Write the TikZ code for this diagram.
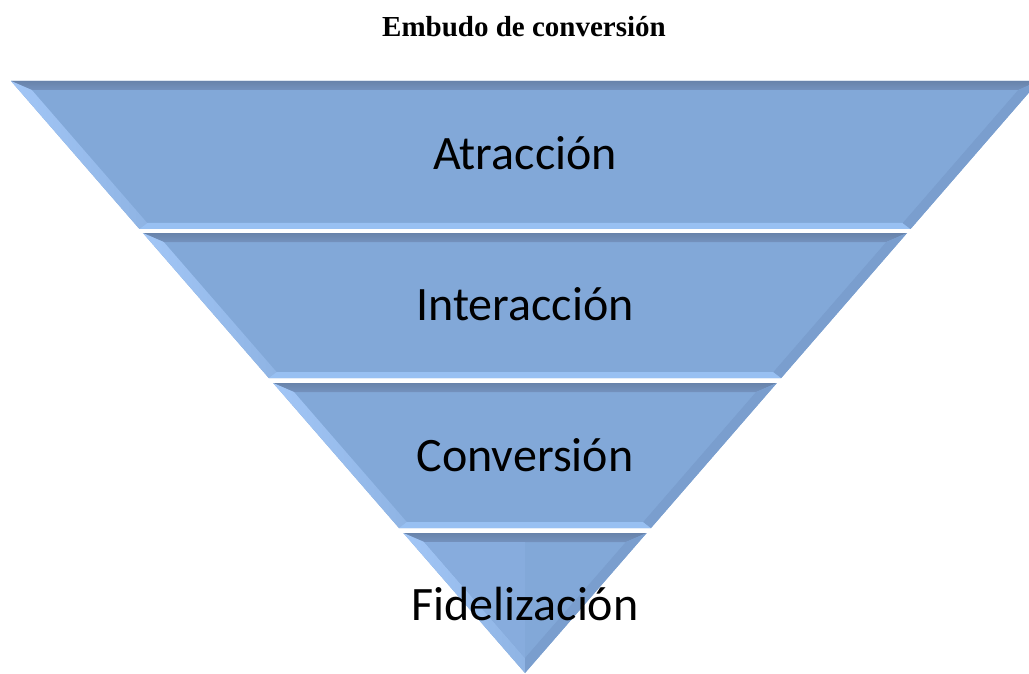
\documentclass[tikz,border=0pt]{standalone}
\usepackage{fontspec}
\setmainfont{Liberation Serif}
\newfontfamily\calib{Carlito}
\definecolor{bmain}{RGB}{130,168,216}
\definecolor{btop}{RGB}{116,146,190}
\definecolor{bleft}{RGB}{162,198,246}
\definecolor{bbot}{RGB}{152,192,242}
\definecolor{bright}{RGB}{122,158,206}
\tikzset{
  lbl/.style={anchor=base, font=\calib\fontsize{48}{56}\selectfont, text=black, inner sep=0pt},
  ttl/.style={anchor=base, font=\bfseries\fontsize{29}{34}\selectfont, inner sep=0pt}
}
\begin{document}
\begin{tikzpicture}[x=1pt,y=-1pt]
\useasboundingbox (0,0) rectangle (1029,674);
\begin{scope}
\clip (0,0) rectangle (1029,674);
\foreach \yt/\yb in {81/229,233/378,383/528}{
  \pgfmathsetmacro\xlt{11+(\yt-81)*0.868}
  \pgfmathsetmacro\xlb{11+(\yb-81)*0.868}
  \pgfmathsetmacro\xrt{1050-\xlt}
  \pgfmathsetmacro\xrb{1050-\xlb}
  \pgfmathsetmacro\yti{\yt+9}
  \pgfmathsetmacro\ybi{\yb-6}
  \pgfmathsetmacro\xlti{11+(\yti-81)*0.868+13}
  \pgfmathsetmacro\xlbi{11+(\ybi-81)*0.868+13}
  \pgfmathsetmacro\xrti{1050-\xlti}
  \pgfmathsetmacro\xrbi{1050-\xlbi}
  \fill[bmain] (\xlt,\yt) -- (\xrt,\yt) -- (\xrb,\yb) -- (\xlb,\yb) -- cycle;
  \shade[top color=btop!90!black, bottom color=btop] (\xlt,\yt) -- (\xrt,\yt) -- (\xrti,\yti) -- (\xlti,\yti) -- cycle;
  \shade[left color=bleft, right color=bmain!60!bleft] (\xlt,\yt) -- (\xlti,\yti) -- (\xlbi,\ybi) -- (\xlb,\yb) -- cycle;
  \fill[bbot] (\xlb,\yb) -- (\xlbi,\ybi) -- (\xrbi,\ybi) -- (\xrb,\yb) -- cycle;
  \fill[bright] (\xrt,\yt) -- (\xrti,\yti) -- (\xrbi,\ybi) -- (\xrb,\yb) -- cycle;
}
% bottom triangle
\pgfmathsetmacro\xlt{11+(533-81)*0.868}
\pgfmathsetmacro\xrt{1050-\xlt}
\pgfmathsetmacro\xlti{11+(542-81)*0.868+13}
\pgfmathsetmacro\xrti{1050-\xlti}
\fill[bmain] (\xlt,533) -- (\xrt,533) -- (525,673) -- cycle;
\shade[top color=btop!90!black, bottom color=btop] (\xlt,533) -- (\xrt,533) -- (\xrti,542) -- (\xlti,542) -- cycle;
\shade[left color=bleft, right color=bmain!60!bleft] (\xlt,533) -- (\xlti,542) -- (525,658) -- (525,673) -- cycle;
\fill[bright] (\xrt,533) -- (\xrti,542) -- (525,658) -- (525,673) -- cycle;
\fill[bmain!85!bleft] (\xlti,542) -- (525,658) -- (525,542) -- cycle;
\end{scope}
\node[ttl] (title) at (524,37) {Embudo de conversión};
\node[lbl] (atr) at (525,170) {Atracción};
\node[lbl] (int) at (525,320) {Interacción};
\node[lbl] (con) at (525,471) {Conversión};
\node[lbl] (fid) at (525,620) {Fidelización};
\end{tikzpicture}
\end{document}
